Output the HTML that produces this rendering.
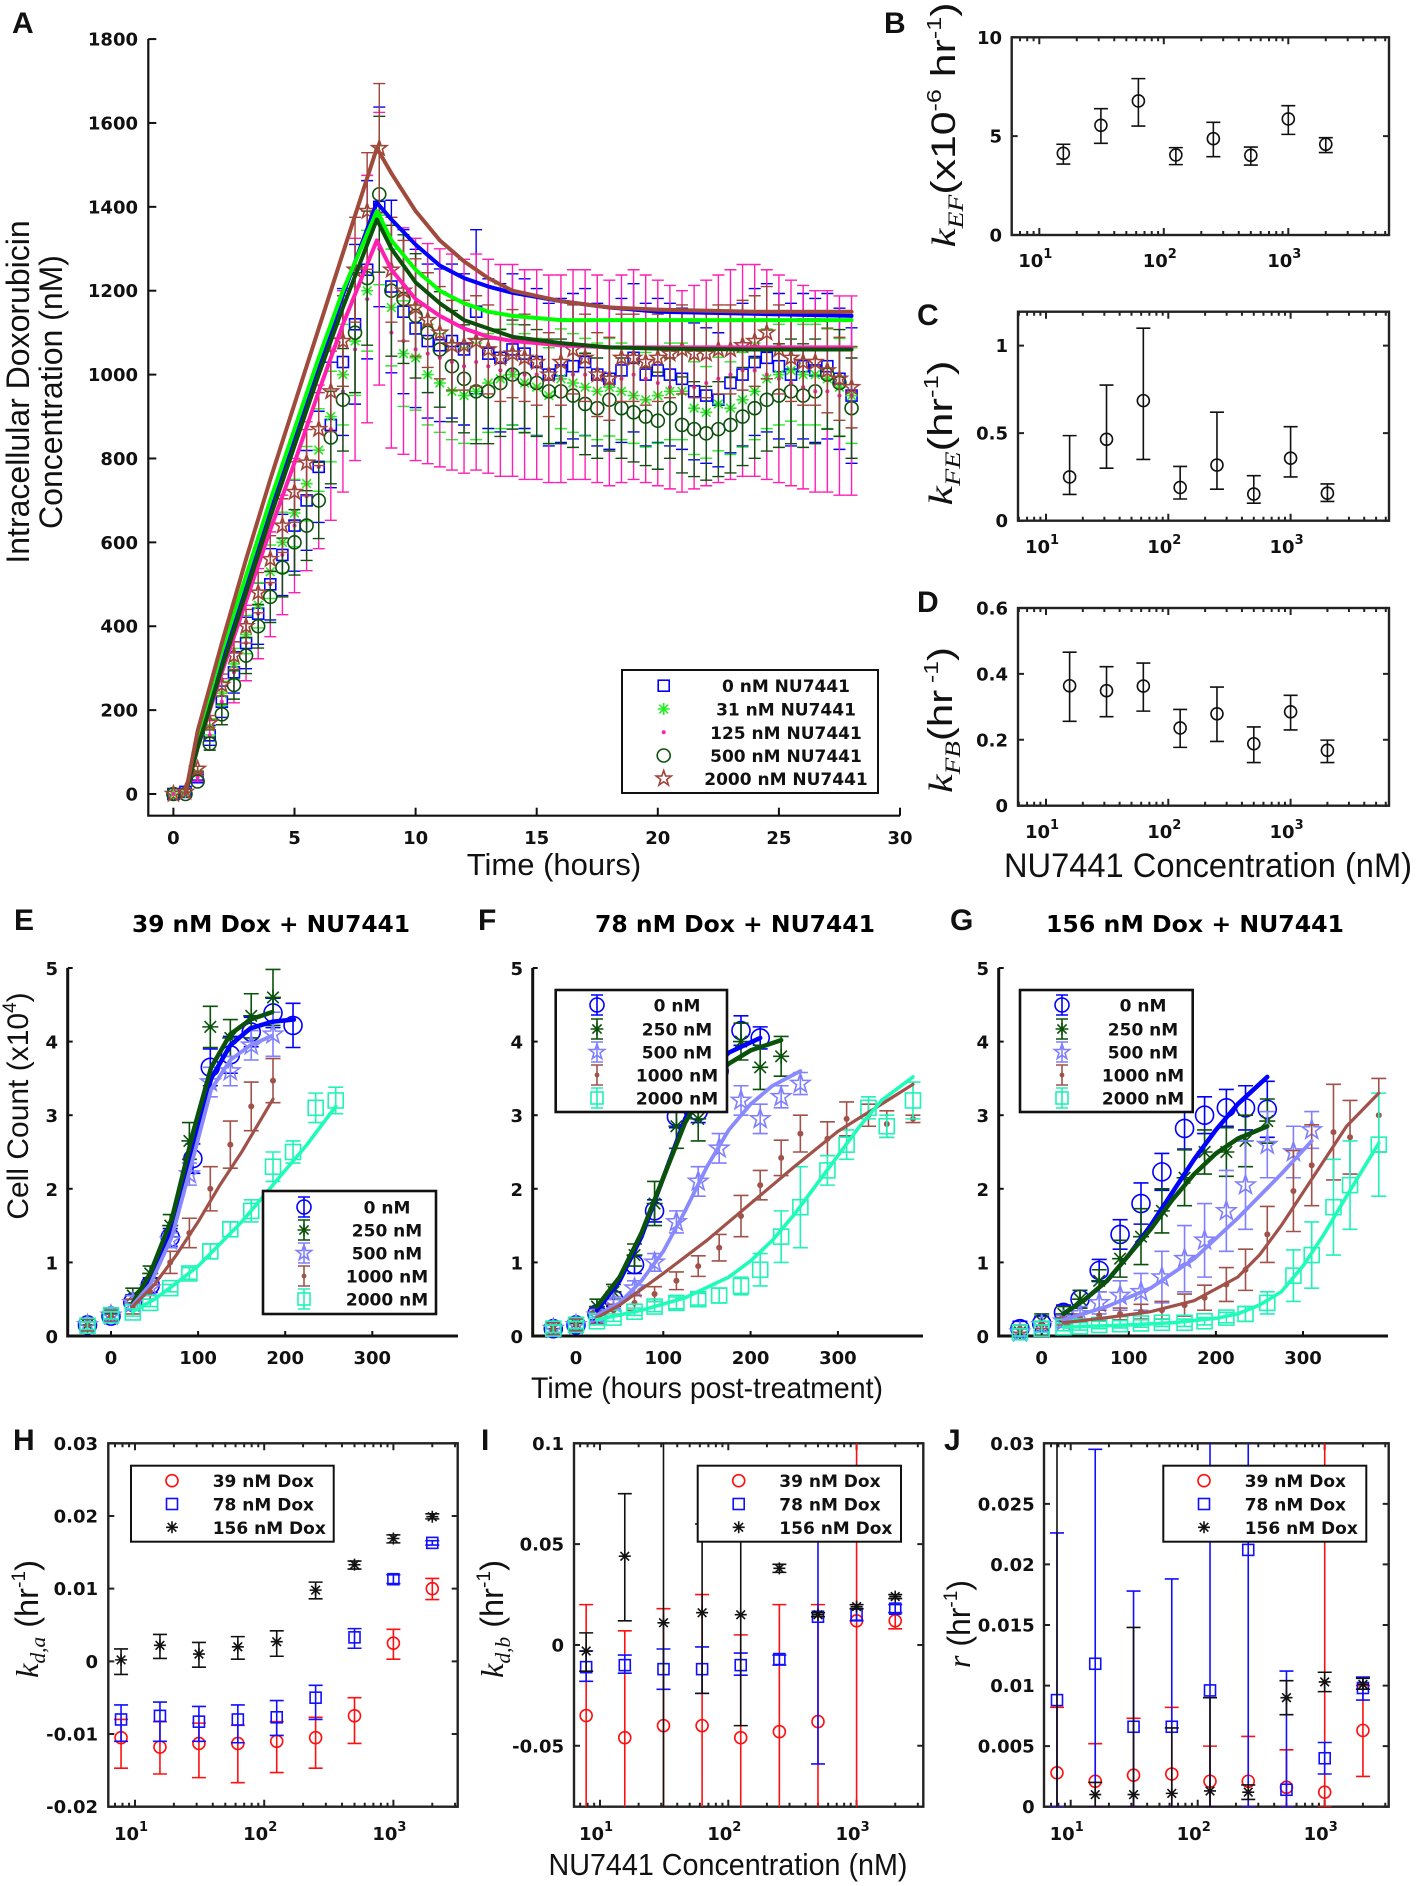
<!DOCTYPE html>
<html><head><meta charset="utf-8"><title>Doxorubicin NU7441 figure</title>
<style>
html,body{margin:0;padding:0;background:#fff;width:1418px;height:1886px;overflow:hidden;}
svg{display:block;}
text{font-family:"DejaVu Sans","Liberation Sans",sans-serif;}
.tk{font-weight:bold;font-size:18px;fill:#111;}
.ttl{font-family:"Liberation Sans",sans-serif;fill:#111;}
.lett{font-family:"Liberation Sans",sans-serif;font-weight:bold;font-size:30px;fill:#111;}
</style></head>
<body>
<svg id="fig" xmlns="http://www.w3.org/2000/svg" width="1418" height="1886" viewBox="0 0 1418 1886" overflow="hidden">
<defs id="defs"></defs>
<rect x="0" y="0" width="1418" height="1886" fill="#fff"/>
<text class="lett" x="12" y="33">A</text>
<text class="lett" x="884" y="33">B</text>
<text class="lett" x="917" y="325">C</text>
<text class="lett" x="917" y="612">D</text>
<text class="lett" x="14" y="930">E</text>
<text class="lett" x="478" y="930">F</text>
<text class="lett" x="950" y="930">G</text>
<text class="lett" x="13" y="1450">H</text>
<text class="lett" x="481" y="1450">I</text>
<text class="lett" x="944" y="1450">J</text>

<text class="ttl" x="0" y="0" font-size="32" text-anchor="middle" transform="translate(29,392) rotate(-90)">Intracellular Doxorubicin</text>
<text class="ttl" x="0" y="0" font-size="32" text-anchor="middle" transform="translate(62,392) rotate(-90)">Concentration (nM)</text>
<text class="ttl" x="554" y="875" font-size="31" text-anchor="middle">Time (hours)</text>

<text class="ttl" x="0" y="0" font-size="34" text-anchor="middle" textLength="245" lengthAdjust="spacingAndGlyphs" transform="translate(955,125) rotate(-90)"><tspan font-family="Liberation Serif" font-style="italic">k</tspan><tspan font-family="Liberation Serif" font-style="italic" font-size="22" dy="8">EF</tspan><tspan dy="-8">(x10</tspan><tspan font-size="20" dy="-14">-6</tspan><tspan dy="14"> hr</tspan><tspan font-size="20" dy="-14">-1</tspan><tspan dy="14">)</tspan></text>
<text class="ttl" x="0" y="0" font-size="34" text-anchor="middle" textLength="145" lengthAdjust="spacingAndGlyphs" transform="translate(952,433) rotate(-90)"><tspan font-family="Liberation Serif" font-style="italic">k</tspan><tspan font-family="Liberation Serif" font-style="italic" font-size="22" dy="8">FE</tspan><tspan dy="-8">(hr</tspan><tspan font-size="20" dy="-14">-1</tspan><tspan dy="14">)</tspan></text>
<text class="ttl" x="0" y="0" font-size="34" text-anchor="middle" textLength="146" lengthAdjust="spacingAndGlyphs" transform="translate(952,720) rotate(-90)"><tspan font-family="Liberation Serif" font-style="italic">k</tspan><tspan font-family="Liberation Serif" font-style="italic" font-size="22" dy="8">FB</tspan><tspan dy="-8">(hr</tspan><tspan font-size="20" dy="-14"> -1</tspan><tspan dy="14">)</tspan></text>
<text class="ttl" x="1208" y="877" font-size="34" text-anchor="middle" textLength="408" lengthAdjust="spacingAndGlyphs">NU7441 Concentration (nM)</text>

<text x="271" y="932" font-size="23" font-weight="bold" text-anchor="middle" textLength="278" lengthAdjust="spacingAndGlyphs">39 nM Dox + NU7441</text>
<text x="735" y="932" font-size="23" font-weight="bold" text-anchor="middle" textLength="280" lengthAdjust="spacingAndGlyphs">78 nM Dox + NU7441</text>
<text x="1195" y="932" font-size="23" font-weight="bold" text-anchor="middle" textLength="298" lengthAdjust="spacingAndGlyphs">156 nM Dox + NU7441</text>
<text class="ttl" x="0" y="0" font-size="30" text-anchor="middle" transform="translate(28,1106) rotate(-90)">Cell Count (x10<tspan font-size="19" dy="-12">4</tspan><tspan dy="12">)</tspan></text>
<text class="ttl" x="707" y="1398" font-size="30" text-anchor="middle" textLength="352" lengthAdjust="spacingAndGlyphs">Time (hours post-treatment)</text>

<text class="ttl" x="0" y="0" font-size="32" text-anchor="middle" textLength="118" lengthAdjust="spacingAndGlyphs" transform="translate(38,1619) rotate(-90)"><tspan font-family="Liberation Serif" font-style="italic">k</tspan><tspan font-family="Liberation Serif" font-style="italic" font-size="21" dy="7">d,a</tspan><tspan dy="-7"> (hr</tspan><tspan font-size="19" dy="-13">-1</tspan><tspan dy="13">)</tspan></text>
<text class="ttl" x="0" y="0" font-size="32" text-anchor="middle" textLength="118" lengthAdjust="spacingAndGlyphs" transform="translate(503,1619) rotate(-90)"><tspan font-family="Liberation Serif" font-style="italic">k</tspan><tspan font-family="Liberation Serif" font-style="italic" font-size="21" dy="7">d,b</tspan><tspan dy="-7"> (hr</tspan><tspan font-size="19" dy="-13">-1</tspan><tspan dy="13">)</tspan></text>
<text class="ttl" x="0" y="0" font-size="32" text-anchor="middle" textLength="88" lengthAdjust="spacingAndGlyphs" transform="translate(970,1624) rotate(-90)"><tspan font-family="Liberation Serif" font-style="italic">r</tspan> (hr<tspan font-size="19" dy="-13">-1</tspan><tspan dy="13">)</tspan></text>
<text class="ttl" x="728" y="1875" font-size="31" text-anchor="middle" textLength="359" lengthAdjust="spacingAndGlyphs">NU7441 Concentration (nM)</text>
</svg>

<script>
// ================= DATA =================
// Panel A
const tA = [0,0.5,1,1.5,2,2.5,3,3.5,4,4.5,5,5.5,6,6.5,7,7.5,8,8.5,9,9.5,10,10.5,11,11.5,12,12.5,13,13.5,14,14.5,15,15.5,16,16.5,17,17.5,18,18.5,19,19.5,20,20.5,21,21.5,22,22.5,23,23.5,24,24.5,25,25.5,26,26.5,27,27.5,28];
const aBlue = [0,5,40,140,220,290,360,430,500,570,640,700,780,880,1030,1120,1250,1400,1210,1150,1110,1080,1070,1080,1060,1150,1050,1040,1060,1050,1030,1000,1010,1020,1030,1000,990,1010,1040,1000,1010,1000,990,960,950,940,980,1000,1030,1040,1020,1000,1020,1010,1020,990,950];
const aGreen = [0,5,50,160,240,310,380,450,530,600,670,740,820,900,1000,1080,1200,1380,1160,1050,1040,1000,980,960,950,960,980,990,1000,980,970,950,990,980,970,960,970,960,950,940,950,960,960,920,910,930,920,940,960,990,1000,1010,1000,1000,990,970,950];
const aPink = [0,5,40,140,220,290,360,430,500,570,640,710,780,870,960,1060,1180,1300,1100,1080,1060,1050,1040,1030,1020,1030,1020,1010,1010,1000,1000,990,990,1000,1000,990,980,990,1000,990,980,970,960,970,980,990,1000,1010,1010,1000,990,980,970,960,960,950,950];
const aDkGreen = [0,0,30,120,190,260,330,400,470,540,600,640,700,850,940,1100,1230,1430,1200,1180,1140,1100,1060,1020,990,960,960,980,1000,990,980,960,960,950,930,920,940,920,910,900,890,920,880,870,860,870,880,900,920,940,950,960,950,960,1000,980,920];
const aBrown = [0,5,60,170,260,330,400,480,560,640,720,790,870,960,1080,1250,1390,1540,1250,1200,1160,1130,1100,1070,1070,1080,1060,1040,1050,1040,1030,1000,1030,1060,1040,1000,990,1040,1040,1030,1040,1050,1060,1050,1050,1060,1060,1070,1080,1100,1060,1040,1030,1030,1010,990,970];
const aRelErr = [0.17,0.12,0.25,0.13,0.1];
const tFitA = [0.5,1,2,3,4,5,6,7,8.4,9,10,11,12,13,14,16,18,20,24,28];
const fitBlue = [0,120,320,500,680,850,1020,1190,1410,1370,1310,1260,1230,1210,1195,1175,1160,1150,1145,1140];
const fitGreen = [0,140,340,520,700,870,1040,1200,1390,1320,1250,1200,1170,1150,1140,1130,1130,1130,1130,1130];
const fitPink = [0,110,290,460,630,790,960,1120,1320,1250,1180,1140,1110,1090,1080,1070,1065,1065,1065,1065];
const fitDkGreen = [0,110,300,480,660,830,1000,1160,1370,1300,1220,1170,1130,1110,1090,1075,1065,1062,1060,1060];
const fitBrown = [0,150,360,560,750,930,1110,1290,1540,1480,1390,1320,1270,1230,1200,1175,1160,1155,1150,1150];
const aLegend = ['0 nM NU7441','31 nM NU7441','125 nM NU7441','500 nM NU7441','2000 nM NU7441'];
const aXTicks = [0,5,10,15,20,25,30];
const aYTicks = [0,200,400,600,800,1000,1200,1400,1600,1800];

// Panels B-D
const nuConc = [15.6,31.25,62.5,125,250,500,1000,2000];
const bVal = [4.13,5.55,6.78,4.05,4.87,4.03,5.87,4.59];
const bLo = [3.59,4.64,5.51,3.56,3.96,3.54,5.09,4.17];
const bHi = [4.59,6.39,7.91,4.42,5.7,4.45,6.54,4.92];
const cVal = [0.25,0.465,0.686,0.19,0.318,0.152,0.357,0.157];
const cLo = [0.15,0.3,0.35,0.124,0.18,0.1,0.25,0.11];
const cHi = [0.486,0.775,1.1,0.31,0.62,0.257,0.537,0.21];
const dVal = [0.364,0.349,0.363,0.236,0.279,0.188,0.285,0.168];
const dLo = [0.256,0.27,0.287,0.177,0.195,0.131,0.23,0.131];
const dHi = [0.466,0.422,0.433,0.292,0.36,0.239,0.335,0.199];
const bYTicks = [0,5,10];
const cYTicks = [0,0.5,1];
const dYTicks = [0,0.2,0.4,0.6];

// Panels E-G
const growthLegend = ['0 nM','250 nM','500 nM','1000 nM','2000 nM'];
const efgYTicks = [0,1,2,3,4,5];
const efgXTicks = [0,100,200,300];
const tE0 = [-27,0,25,45,68,94,114,137,161,186,209];
const tE = [-27,0,25,45,68,90,114,137,161,186];
const tE2000 = [-27,0,25,45,68,90,114,137,161,186,209,235,258];
const e0 = [0.15,0.27,0.46,0.69,1.34,2.41,3.65,3.82,4.13,4.39,4.22];
const e250 = [0.15,0.3,0.55,0.85,1.5,2.65,4.2,4.05,4.35,4.6];
const e500 = [0.15,0.28,0.45,0.65,1.3,2.2,3.45,3.6,3.95,4.1];
const e1000 = [0.15,0.27,0.4,0.6,1.0,1.4,2.0,2.6,3.12,3.47];
const e2000 = [0.14,0.28,0.32,0.45,0.65,0.85,1.15,1.45,1.7,2.3,2.5,3.1,3.2];
const e0Err = [0.08,0.08,0.1,0.1,0.12,0.2,0.25,0.25,0.2,0.2,0.3];
const e250Err = [0.08,0.08,0.1,0.1,0.15,0.25,0.28,0.25,0.3,0.38];
const e500Err = [0.08,0.08,0.1,0.1,0.1,0.15,0.2,0.2,0.2,0.3];
const e1000Err = [0.08,0.08,0.1,0.1,0.15,0.2,0.3,0.32,0.33,0.3];
const e2000Err = [0.05,0.05,0.05,0.05,0.05,0.08,0.1,0.1,0.15,0.2,0.15,0.2,0.18];
const tFitE0 = [25,45,70,95,115,137,160,185,210];
const fitE0 = [0.42,0.75,1.45,2.6,3.5,3.95,4.18,4.27,4.3];
const tFitE250 = [25,45,70,95,115,137,160,185];
const fitE250 = [0.45,0.85,1.6,2.8,3.65,4.1,4.3,4.4];
const fitE500 = [0.42,0.7,1.35,2.45,3.35,3.75,3.95,4.08];
const tFitE1000 = [25,50,75,100,125,150,186];
const fitE1000 = [0.4,0.7,1.1,1.55,2.05,2.5,3.22];
const tFitE2000 = [25,50,75,100,125,150,175,200,225,258];
const fitE2000 = [0.33,0.5,0.72,0.95,1.25,1.55,1.9,2.25,2.6,3.12];

const tF = [-26,0,24,43,67,90,115,140,164,189,211,235,257,288,310,335,356,386];
const f0 = [0.1,0.15,0.3,0.5,0.97,1.7,2.98,3.05,3.6,4.15,4.05];
const f250 = [0.1,0.17,0.4,0.6,1.1,1.8,2.85,2.95,3.5,4.0,3.65,3.8];
const f500 = [0.1,0.15,0.28,0.45,0.65,1.0,1.55,2.1,2.55,3.2,2.95,3.25,3.43];
const f1000 = [0.1,0.15,0.25,0.35,0.45,0.57,0.75,0.95,1.2,1.63,2.05,2.42,2.75,2.68,2.95,3.0,2.88,2.95];
const f2000 = [0.1,0.15,0.2,0.25,0.33,0.4,0.45,0.5,0.55,0.68,0.9,1.35,1.75,2.25,2.6,3.1,2.85,3.2];
const f0Err = [0.08,0.08,0.08,0.1,0.12,0.15,0.15,0.15,0.2,0.2,0.15];
const f250Err = [0.08,0.08,0.1,0.1,0.15,0.3,0.3,0.3,0.3,0.25,0.3,0.27];
const f500Err = [0.08,0.08,0.08,0.08,0.1,0.12,0.15,0.2,0.2,0.2,0.2,0.15,0.15];
const f1000Err = [0.08,0.08,0.08,0.08,0.1,0.1,0.12,0.14,0.18,0.28,0.2,0.24,0.25,0.23,0.23,0.15,0.18,0.05];
const f2000Err = [0.05,0.05,0.05,0.05,0.05,0.07,0.08,0.08,0.1,0.12,0.22,0.35,0.55,0.2,0.2,0.15,0.15,0.25];
const tFitF0 = [24,50,75,100,125,150,175,211];
const fitF0 = [0.35,0.75,1.35,2.15,2.95,3.55,3.85,4.05];
const tFitF250 = [24,50,75,100,125,150,175,200,235];
const fitF250 = [0.4,0.8,1.4,2.15,2.9,3.4,3.7,3.88,4.02];
const tFitF500 = [24,50,75,100,125,150,175,200,225,257];
const fitF500 = [0.28,0.45,0.75,1.15,1.7,2.3,2.8,3.15,3.4,3.6];
const tFitF1000 = [24,50,100,150,200,250,300,350,386];
const fitF1000 = [0.25,0.42,0.85,1.3,1.8,2.3,2.78,3.15,3.42];
const tFitF2000 = [24,75,125,175,200,225,250,275,300,325,350,386];
const fitF2000 = [0.22,0.35,0.52,0.8,1.02,1.3,1.65,2.05,2.45,2.85,3.2,3.52];

const tG = [-25,0,25,44,66,90,114,138,164,187,212,234,259,289,310,335,354,387];
const g0 = [0.1,0.17,0.32,0.5,0.89,1.38,1.8,2.23,2.82,3.0,3.1,3.1,3.08];
const g250 = [0.05,0.2,0.3,0.5,0.75,1.05,1.35,1.7,2.15,2.5,2.5,2.65,2.92];
const g500 = [0.05,0.15,0.2,0.3,0.45,0.55,0.6,0.8,1.05,1.3,1.7,2.05,2.6,2.5,2.8];
const g1000 = [0.1,0.15,0.2,0.25,0.28,0.3,0.33,0.35,0.42,0.52,0.7,0.9,1.38,1.97,2.32,2.77,2.7,3.0];
const g2000 = [0.05,0.1,0.12,0.13,0.15,0.16,0.17,0.18,0.18,0.2,0.25,0.3,0.45,0.82,1.1,1.75,2.05,2.6];
const g0Err = [0.1,0.1,0.1,0.12,0.15,0.2,0.28,0.25,0.28,0.25,0.25,0.3,0.38];
const g250Err = [0.05,0.1,0.1,0.12,0.15,0.25,0.38,0.3,0.38,0.3,0.33,0.35,0.3];
const g500Err = [0.05,0.05,0.08,0.1,0.15,0.2,0.25,0.35,0.45,0.5,0.55,0.6,0.45,0.35,0.25];
const g1000Err = [0.05,0.05,0.05,0.05,0.07,0.08,0.1,0.12,0.15,0.17,0.23,0.28,0.38,0.55,0.55,0.65,0.5,0.5];
const g2000Err = [0.05,0.05,0.05,0.05,0.05,0.05,0.05,0.05,0.05,0.05,0.07,0.1,0.15,0.35,0.45,0.65,0.6,0.7];
const tFitG = [25,50,75,100,125,150,175,200,225,259];
const fitG0 = [0.3,0.5,0.75,1.1,1.5,1.95,2.4,2.8,3.15,3.52];
const fitG250 = [0.3,0.5,0.75,1.1,1.45,1.85,2.2,2.48,2.68,2.85];
const tFitG500 = [25,75,125,175,225,275,310];
const fitG500 = [0.22,0.4,0.65,1.05,1.6,2.2,2.65];
const tFitG1000 = [25,75,125,175,225,250,275,300,325,350,387];
const fitG1000 = [0.18,0.25,0.33,0.48,0.8,1.1,1.5,1.95,2.4,2.85,3.3];
const tFitG2000 = [25,100,150,200,225,250,275,300,325,350,387];
const fitG2000 = [0.12,0.15,0.18,0.24,0.3,0.42,0.6,0.95,1.4,1.9,2.62];

// Panels H-J
const hijConc = [7.8,15.6,31.25,62.5,125,250,500,1000,2000];
const doxLegend = ['39 nM Dox','78 nM Dox','156 nM Dox'];
const hRed = [-0.0105,-0.0118,-0.0113,-0.0113,-0.011,-0.0105,-0.0075,0.0025,0.01];
const hRedLo = [-0.0147,-0.0155,-0.016,-0.0167,-0.0153,-0.0147,-0.0113,0.0003,0.0085];
const hRedHi = [-0.008,-0.0083,-0.0085,-0.0088,-0.0083,-0.0077,-0.005,0.0044,0.0114];
const hBlue = [-0.008,-0.0075,-0.0083,-0.008,-0.0077,-0.005,0.0033,0.0113,0.0163];
const hBlueLo = [-0.011,-0.011,-0.011,-0.0112,-0.0102,-0.008,0.0018,0.0107,0.016];
const hBlueHi = [-0.006,-0.0056,-0.0062,-0.006,-0.0054,-0.0033,0.0045,0.0119,0.0166];
const hBlack = [0.0002,0.0022,0.001,0.002,0.0027,0.0098,0.0133,0.0169,0.0199];
const hBlackLo = [-0.0018,0.0004,-0.0008,0.0003,0.0007,0.0086,0.0127,0.0163,0.0196];
const hBlackHi = [0.0017,0.0037,0.0026,0.0034,0.0042,0.0109,0.0138,0.0174,0.0203];
const iRed = [-0.035,-0.046,-0.04,-0.04,-0.046,-0.043,-0.038,0.012,0.012];
const iRedLo = [-0.2,-0.2,-0.2,-0.2,-0.2,-0.2,-0.2,-0.2,0.008];
const iRedHi = [0.02,0.007,0.018,0.025,0.005,0.02,0.02,0.2,0.016];
const iBlue = [-0.011,-0.01,-0.012,-0.012,-0.01,-0.007,0.014,0.015,0.018];
const iBlueLo = [-0.018,-0.014,-0.022,-0.024,-0.015,-0.01,-0.059,0.012,0.016];
const iBlueHi = [-0.003,-0.005,-0.002,-0.001,-0.004,-0.005,0.06,0.018,0.02];
const iBlack = [-0.003,0.044,0.011,0.016,0.015,0.038,0.015,0.019,0.024];
const iBlackLo = [-0.013,0.012,-0.2,-0.024,-0.04,0.036,0.014,0.018,0.023];
const iBlackHi = [0.006,0.075,0.2,0.06,0.06,0.04,0.016,0.02,0.025];
const jRed = [0.0028,0.0021,0.0026,0.0027,0.0021,0.0021,0.0016,0.0012,0.0063];
const jRedLo = [0,0,0,0,0,0,0,0,0.0025];
const jRedHi = [0.0082,0.0052,0.0073,0.0082,0.005,0.0058,0.0047,0.05,0.01];
const jBlue = [0.0088,0.0118,0.0066,0.0066,0.0096,0.0212,0.0014,0.004,0.0098];
const jBlueLo = [0,0,0,0,0,0,0,0.0027,0.0088];
const jBlueHi = [0.0226,0.0295,0.0178,0.0188,0.05,0.05,0.0112,0.0053,0.0107];
const jBlack = [-0.001,0.001,0.001,0.0011,0.0013,0.0012,0.009,0.0103,0.0101];
const jBlackLo = [-0.01,0,0,0,0,0.0006,0.0076,0.0095,0.0097];
const jBlackHi = [0.05,0.002,0.0148,0.0065,0.009,0.0018,0.0104,0.0111,0.0106];
const hYTicks = [-0.02,-0.01,0,0.01,0.02,0.03];
const iYTicks = [-0.05,0,0.05,0.1];
const jYTicks = [0,0.005,0.01,0.015,0.02,0.025,0.03];
const logTickExp = [1,2,3];

// ================= DRAWING =================
const NS = 'http://www.w3.org/2000/svg';
const svg = document.getElementById('fig');
const defs = document.getElementById('defs');
let clipN = 0;

function el(tag, attrs, parent, name, inter) {
  const e = document.createElementNS(NS, tag);
  for (const k in attrs) e.setAttribute(k, attrs[k]);
  
  
  (parent || svg).appendChild(e);
  return e;
}
function txt(parent, x, y, s, attrs, name) {
  const t = el('text', Object.assign({x: x, y: y}, attrs), parent, name, false);
  t.textContent = s;
  return t;
}
function fmt(v) { return String(v); }

function marker(g, type, x, y, sz, color, name) {
  const sw = 1.6;
  if (type === 'o') {
    el('circle', {cx: x, cy: y, r: sz, fill: 'none', stroke: color, 'stroke-width': sw}, g, name, false);
  } else if (type === 's') {
    el('rect', {x: x - sz, y: y - sz, width: 2 * sz, height: 2 * sz, fill: 'none', stroke: color, 'stroke-width': sw}, g, name, false);
  } else if (type === '*') {
    const d = sz * 0.72;
    el('path', {d: `M${x-sz},${y}H${x+sz}M${x},${y-sz}V${y+sz}M${x-d},${y-d}L${x+d},${y+d}M${x-d},${y+d}L${x+d},${y-d}`, stroke: color, 'stroke-width': sw, fill: 'none'}, g, name, false);
  } else if (type === 'p') {
    let p = '';
    for (let i = 0; i < 10; i++) {
      const r = i % 2 ? sz * 0.4 : sz;
      const a = -Math.PI / 2 + i * Math.PI / 5;
      p += (i ? 'L' : 'M') + (x + r * Math.cos(a)).toFixed(2) + ',' + (y + r * Math.sin(a)).toFixed(2);
    }
    el('path', {d: p + 'Z', fill: 'none', stroke: color, 'stroke-width': sw}, g, name, false);
  } else if (type === '.') {
    el('circle', {cx: x, cy: y, r: sz, fill: color, stroke: 'none'}, g, name, false);
  }
}
function errbar(g, x, y1, y2, cw, color, name, sw, cap1, cap2) {
  let d = `M${x},${y1}V${y2}`;
  if (cap1 !== false) d += `M${x-cw},${y1}H${x+cw}`;
  if (cap2 !== false) d += `M${x-cw},${y2}H${x+cw}`;
  el('path', {d: d, stroke: color, 'stroke-width': sw || 1.5, fill: 'none'}, g, name, false);
}
function polyline(g, xs, ys, sx, sy, color, w, name) {
  let d = '';
  const n = Math.min(xs.length, ys.length);
  for (let i = 0; i < n; i++) d += (i ? 'L' : 'M') + sx(xs[i]).toFixed(2) + ',' + sy(ys[i]).toFixed(2);
  el('path', {d: d, fill: 'none', stroke: color, 'stroke-width': w, 'stroke-linejoin': 'round', 'stroke-linecap': 'round'}, g, name, false);
}
function makeClip(x, y, w, h) {
  const id = 'clip' + (clipN++);
  const cp = el('clipPath', {id: id}, defs, 'clip-region', false);
  el('rect', {x: x, y: y, width: w, height: h}, cp, 'clip-rect', false);
  return 'url(#' + id + ')';
}

// ---------- Panel A ----------
(function () {
  const g = el('g', {}, svg, 'panel-a', false);
  const X0 = 148.3, XB = 815.7;
  const sx = t => 173.4 + t * 24.22;
  const sy = v => 794 - v * 0.4194;
  el('path', {d: `M${X0},39V${XB}H900`, stroke: '#111', 'stroke-width': 2.2, fill: 'none'}, g, 'a-axes', false);
  aYTicks.forEach(v => {
    el('line', {x1: X0, x2: X0 + 8, y1: sy(v), y2: sy(v), stroke: '#111', 'stroke-width': 2}, g, 'a-y-tick', false);
    txt(g, 138, sy(v) + 6.5, fmt(v), {class: 'tk', 'text-anchor': 'end'}, 'a-y-tick-label');
  });
  aXTicks.forEach(v => {
    el('line', {x1: sx(v), x2: sx(v), y1: XB, y2: XB - 8, stroke: '#111', 'stroke-width': 2}, g, 'a-x-tick', false);
    txt(g, sx(v), 844, fmt(v), {class: 'tk', 'text-anchor': 'middle'}, 'a-x-tick-label');
  });
  const series = [
    {v: aBlue, c: '#0000ff', m: 's', s: 5.5, fit: fitBlue, fc: '#0000ff', n: 'blue'},
    {v: aGreen, c: '#22ee22', m: '*', s: 6, fit: fitGreen, fc: '#00ff00', n: 'green'},
    {v: aPink, c: '#ff1fb4', m: '.', s: 2, fit: fitPink, fc: '#ff20b0', n: 'pink'},
    {v: aDkGreen, c: '#0c520c', m: 'o', s: 6.5, fit: fitDkGreen, fc: '#0a4f0a', n: 'dark-green'},
    {v: aBrown, c: '#a0443a', m: 'p', s: 8, fit: fitBrown, fc: '#a04a3c', n: 'brown'}
  ];
  series.forEach((s, k) => {
    const sg = el('g', {}, g, 'a-series-' + s.n, false);
    const n = Math.min(tA.length, s.v.length);
    for (let i = 0; i < n; i++) {
      const e = s.v[i] * aRelErr[k];
      if (e > 5) errbar(sg, sx(tA[i]), sy(s.v[i] - e), sy(s.v[i] + e), 6, s.c, 'a-error-bar', 1.4);
      marker(sg, s.m, sx(tA[i]), sy(s.v[i]), s.s, s.c, 'a-point');
    }
  });
  series.forEach(s => polyline(g, tFitA, s.fit, sx, sy, s.fc, 4, 'a-fit-' + s.n));
  const lg = el('g', {}, g, 'a-legend', false);
  el('rect', {x: 622, y: 670, width: 256, height: 123, fill: '#fff', stroke: '#111', 'stroke-width': 2}, lg, 'a-legend-box', false);
  const rows = [685.7, 709, 732.3, 755.5, 778.5];
  series.forEach((s, k) => {
    marker(lg, s.m, 663.7, rows[k], s.s, s.c, 'a-legend-marker');
    txt(lg, 786, rows[k] + 6.5, aLegend[k], {'font-size': 17, 'font-weight': 'bold', 'text-anchor': 'middle', fill: '#111'}, 'a-legend-label');
  });
})();

// ---------- log panels (B-D, H-J) ----------
function logPanel(p) {
  const g = el('g', {}, svg, p.name, false);
  const sx = v => p.x10 + (Math.log10(v) - 1) * p.dec;
  const sy = v => p.y1 - (v - p.ymin) / (p.ymax - p.ymin) * (p.y1 - p.y0);
  const lmin = 1 + (p.x0 - p.x10) / p.dec, lmax = 1 + (p.x1 - p.x10) / p.dec;
  const ax = el('g', {}, g, p.name + '-axes', false);
  for (let d = Math.floor(lmin); d <= Math.ceil(lmax); d++) {
    for (let m = 1; m <= 9; m++) {
      const lv = d + Math.log10(m);
      if (lv < lmin || lv > lmax) continue;
      const x = sx(m * Math.pow(10, d));
      const L = m === 1 ? 7 : 4;
      el('path', {d: `M${x},${p.y1}V${p.y1-L}M${x},${p.y0}V${p.y0+L}`, stroke: '#222', 'stroke-width': 2}, ax, 'x-tick', false);
    }
  }
  logTickExp.forEach(e => {
    const t = el('text', {x: sx(Math.pow(10, e)) - 4, y: p.xlabY, class: 'tk', 'text-anchor': 'middle'}, ax, 'x-tick-label', false);
    t.textContent = '10';
    const sp = el('tspan', {dy: -9, 'font-size': 13}, t, 'x-tick-exponent', false);
    sp.textContent = String(e);
  });
  p.yticks.forEach(v => {
    const y = sy(v);
    el('path', {d: `M${p.x0},${y}H${p.x0+6}M${p.x1},${y}H${p.x1-6}`, stroke: '#222', 'stroke-width': 2}, ax, 'y-tick', false);
    txt(ax, p.ylabX, y + 6.5, fmt(v), {class: 'tk', 'text-anchor': 'end'}, 'y-tick-label');
  });
  el('rect', {x: p.x0, y: p.y0, width: p.x1 - p.x0, height: p.y1 - p.y0, fill: 'none', stroke: '#222', 'stroke-width': 2.4}, ax, p.name + '-frame', false);
  const dg = el('g', {'clip-path': makeClip(p.x0, p.y0, p.x1 - p.x0, p.y1 - p.y0)}, g, p.name + '-data', false);
  p.series.forEach(s => {
    const sg = el('g', {}, dg, p.name + '-series-' + s.n, false);
    for (let i = 0; i < s.v.length; i++) {
      const lo = Math.max(s.lo[i], p.ymin), hi = Math.min(s.hi[i], p.ymax);
      errbar(sg, sx(s.x[i]), sy(lo), sy(hi), 7, s.c, 'error-bar', 1.6, s.lo[i] >= p.ymin, s.hi[i] <= p.ymax);
      if (s.v[i] >= p.ymin && s.v[i] <= p.ymax) marker(sg, s.m, sx(s.x[i]), sy(s.v[i]), s.s, s.c, 'point');
    }
  });
  if (p.legend) {
    const L = p.legend;
    const lg = el('g', {}, g, p.name + '-legend', false);
    el('rect', {x: L.x0, y: 1465.7, width: L.x1 - L.x0, height: 76, fill: '#fff', stroke: '#111', 'stroke-width': 2}, lg, 'legend-box', false);
    const rows = [1480.7, 1504, 1527.3];
    p.series.forEach((s, k) => {
      marker(lg, s.m, L.mx, rows[k], s.s, s.c, 'legend-marker');
      txt(lg, L.tx, rows[k] + 6.5, doxLegend[k], {'font-size': 17, 'font-weight': 'bold', fill: '#111'}, 'legend-label');
    });
  }
}

logPanel({name: 'panel-b', x0: 1011.7, x1: 1389, y0: 37.3, y1: 235, x10: 1039.3, dec: 124.5, ymin: 0, ymax: 10,
  yticks: bYTicks, ylabX: 1002, xlabY: 267,
  series: [{x: nuConc, v: bVal, lo: bLo, hi: bHi, c: '#111', m: 'o', s: 6, n: 'kef'}]});
logPanel({name: 'panel-c', x0: 1018, x1: 1389, y0: 311.7, y1: 520.7, x10: 1046, dec: 122.3, ymin: 0, ymax: 1.194,
  yticks: cYTicks, ylabX: 1008, xlabY: 553,
  series: [{x: nuConc, v: cVal, lo: cLo, hi: cHi, c: '#111', m: 'o', s: 6, n: 'kfe'}]});
logPanel({name: 'panel-d', x0: 1018, x1: 1389, y0: 608, y1: 805.7, x10: 1046, dec: 122.3, ymin: 0, ymax: 0.6,
  yticks: dYTicks, ylabX: 1008, xlabY: 838,
  series: [{x: nuConc, v: dVal, lo: dLo, hi: dHi, c: '#111', m: 'o', s: 6, n: 'kfb'}]});

function hijSeries(r, rl, rh, b, bl, bh, k, kl, kh) {
  return [
    {x: hijConc, v: r, lo: rl, hi: rh, c: '#ff1010', m: 'o', s: 6, n: 'dox39'},
    {x: hijConc, v: b, lo: bl, hi: bh, c: '#1010ff', m: 's', s: 5.5, n: 'dox78'},
    {x: hijConc, v: k, lo: kl, hi: kh, c: '#111', m: '*', s: 6, n: 'dox156'}
  ];
}
logPanel({name: 'panel-h', x0: 108.3, x1: 457.7, y0: 1443.3, y1: 1806.7, x10: 135, dec: 129.2, ymin: -0.02, ymax: 0.03,
  yticks: hYTicks, ylabX: 98, xlabY: 1840,
  series: hijSeries(hRed, hRedLo, hRedHi, hBlue, hBlueLo, hBlueHi, hBlack, hBlackLo, hBlackHi),
  legend: {x0: 131, x1: 333.7, mx: 172, tx: 212.7}});
logPanel({name: 'panel-i', x0: 574, x1: 923.3, y0: 1443.3, y1: 1806.7, x10: 600, dec: 128.3, ymin: -0.0802, ymax: 0.1,
  yticks: iYTicks, ylabX: 564, xlabY: 1840,
  series: hijSeries(iRed, iRedLo, iRedHi, iBlue, iBlueLo, iBlueHi, iBlack, iBlackLo, iBlackHi),
  legend: {x0: 697.7, x1: 901, mx: 738.7, tx: 779.3}});
logPanel({name: 'panel-j', x0: 1044, x1: 1388.7, y0: 1443.3, y1: 1806.7, x10: 1070.7, dec: 127, ymin: 0, ymax: 0.03,
  yticks: jYTicks, ylabX: 1034.7, xlabY: 1840,
  series: hijSeries(jRed, jRedLo, jRedHi, jBlue, jBlueLo, jBlueHi, jBlack, jBlackLo, jBlackHi),
  legend: {x0: 1163.3, x1: 1366.3, mx: 1204, tx: 1244.7}});

// ---------- growth panels (E-G) ----------
const growthStyles = [
  {c: '#0000ff', fc: '#0000ff', m: 'o', s: 9, w: 4.5, n: 'nu0'},
  {c: '#0a520a', fc: '#0a520a', m: '*', s: 8, w: 4.5, n: 'nu250'},
  {c: '#7f7fff', fc: '#8a8aff', m: 'p', s: 10, w: 3.8, n: 'nu500'},
  {c: '#a0524a', fc: '#a0524a', m: '.', s: 3, w: 3.2, n: 'nu1000'},
  {c: '#20f2b8', fc: '#1ffbb8', m: 's', s: 7.5, w: 3.6, n: 'nu2000'}
];
function growthPanel(p) {
  const g = el('g', {}, svg, p.name, false);
  const sx = t => p.xz + t * p.k;
  const sy = v => 1336 - v * 73.6;
  el('path', {d: `M${p.x0},${sy(5)}V1336H${p.x1}`, stroke: '#111', 'stroke-width': 3, fill: 'none'}, g, p.name + '-axes', false);
  efgYTicks.forEach(v => {
    el('line', {x1: p.x0, x2: p.x0 + 5, y1: sy(v), y2: sy(v), stroke: '#111', 'stroke-width': 2}, g, 'y-tick', false);
    txt(g, p.ylabX, sy(v) + 7, fmt(v), {class: 'tk', 'font-size': 19, 'text-anchor': 'end'}, 'y-tick-label');
  });
  efgXTicks.forEach(v => {
    el('line', {x1: sx(v), x2: sx(v), y1: 1336, y2: 1331, stroke: '#111', 'stroke-width': 2}, g, 'x-tick', false);
    txt(g, sx(v), 1364, fmt(v), {class: 'tk', 'font-size': 19, 'text-anchor': 'middle'}, 'x-tick-label');
  });
  p.series.forEach((s, k) => {
    const st = growthStyles[k];
    const sg = el('g', {}, g, p.name + '-series-' + st.n, false);
    for (let i = 0; i < s.v.length; i++) {
      errbar(sg, sx(s.t[i]), sy(s.v[i] - s.e[i]), sy(s.v[i] + s.e[i]), 7.5, st.c, 'error-bar', 1.6);
      marker(sg, st.m, sx(s.t[i]), sy(s.v[i]), st.s, st.c, 'point');
    }
  });
  p.series.forEach((s, k) => polyline(g, s.ft, s.fv, sx, sy, growthStyles[k].fc, growthStyles[k].w, p.name + '-fit-' + growthStyles[k].n));
  const L = p.legend;
  const lg = el('g', {}, g, p.name + '-legend', false);
  el('rect', {x: L.x0, y: L.y0, width: L.x1 - L.x0, height: L.y1 - L.y0, fill: '#fff', stroke: '#111', 'stroke-width': 2.6}, lg, 'legend-box', false);
  growthStyles.forEach((st, k) => {
    const y = L.rows[k];
    errbar(lg, L.mx, y - 10, y + 10, 6, st.c, 'legend-error-bar', 1.6);
    marker(lg, st.m, L.mx, y, st.m === 'o' ? 7 : st.s * 0.8, st.c, 'legend-marker');
    txt(lg, L.tx, y + 6.5, growthLegend[k], {'font-size': 17, 'font-weight': 'bold', 'text-anchor': 'middle', fill: '#111'}, 'legend-label');
  });
}
growthPanel({name: 'panel-e', x0: 67.7, x1: 458, xz: 111, k: 0.871, ylabX: 58,
  series: [
    {t: tE0, v: e0, e: e0Err, ft: tFitE0, fv: fitE0},
    {t: tE, v: e250, e: e250Err, ft: tFitE250, fv: fitE250},
    {t: tE, v: e500, e: e500Err, ft: tFitE250, fv: fitE500},
    {t: tE, v: e1000, e: e1000Err, ft: tFitE1000, fv: fitE1000},
    {t: tE2000, v: e2000, e: e2000Err, ft: tFitE2000, fv: fitE2000}],
  legend: {x0: 263, x1: 436, y0: 1191, y1: 1314, rows: [1207, 1230, 1253, 1276, 1299], mx: 304, tx: 387}});
growthPanel({name: 'panel-f', x0: 532.7, x1: 923, xz: 576, k: 0.873, ylabX: 523,
  series: [
    {t: tF, v: f0, e: f0Err, ft: tFitF0, fv: fitF0},
    {t: tF, v: f250, e: f250Err, ft: tFitF250, fv: fitF250},
    {t: tF, v: f500, e: f500Err, ft: tFitF500, fv: fitF500},
    {t: tF, v: f1000, e: f1000Err, ft: tFitF1000, fv: fitF1000},
    {t: tF, v: f2000, e: f2000Err, ft: tFitF2000, fv: fitF2000}],
  legend: {x0: 555.7, x1: 727, y0: 990, y1: 1112, rows: [1005, 1029, 1052, 1075, 1098], mx: 597, tx: 677}});
growthPanel({name: 'panel-g', x0: 998.7, x1: 1388, xz: 1041.7, k: 0.871, ylabX: 989,
  series: [
    {t: tG, v: g0, e: g0Err, ft: tFitG, fv: fitG0},
    {t: tG, v: g250, e: g250Err, ft: tFitG, fv: fitG250},
    {t: tG, v: g500, e: g500Err, ft: tFitG500, fv: fitG500},
    {t: tG, v: g1000, e: g1000Err, ft: tFitG1000, fv: fitG1000},
    {t: tG, v: g2000, e: g2000Err, ft: tFitG2000, fv: fitG2000}],
  legend: {x0: 1020, x1: 1192.7, y0: 990, y1: 1112, rows: [1005, 1029, 1052, 1075, 1098], mx: 1062, tx: 1143}});
</script>
</body></html>
